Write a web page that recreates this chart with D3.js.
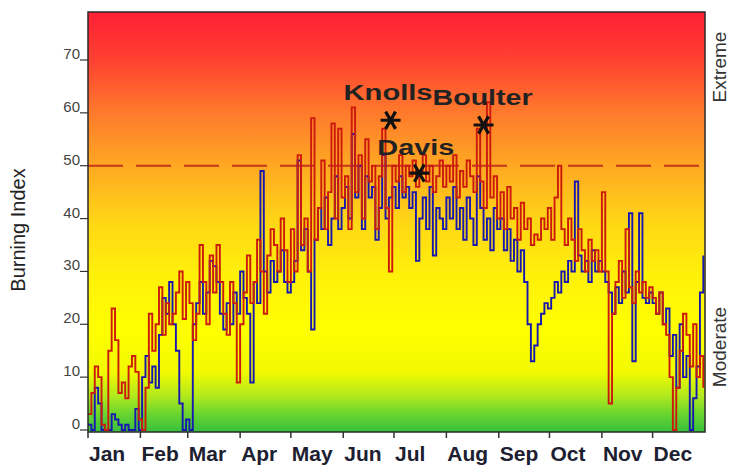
<!DOCTYPE html>
<html>
<head>
<meta charset="utf-8">
<script src="https://cdn.jsdelivr.net/npm/d3@7"></script>
<style>
  body { margin: 0; background: #fff; }
  svg { display: block; font-family: "Liberation Sans", Arial, sans-serif; }
</style>
</head>
<body>
<svg width="731" height="466"></svg>
<script>
// month labels and the day each month starts on
const months = ["Jan", "Feb", "Mar", "Apr", "May", "Jun", "Jul", "Aug", "Sep", "Oct", "Nov", "Dec"];
const monthStart = [0, 31, 59, 90, 120, 151, 181, 212, 243, 273, 304, 334];
const yTicks = [0, 10, 20, 30, 40, 50, 60, 70];
const threshold = 50;

// burning index, one value every 2 days (day = 2 * index)
const redSeries = [
  3, 7, 12, 10, 1, 0, 15, 23, 17, 7, 9, 6, 12, 14, 11, 2,
  0, 8, 22, 15, 20, 27, 18, 24, 20, 22, 26, 30, 21, 28,
  24, 17, 22, 35, 28, 20, 33, 26, 35, 28, 22, 18, 28, 24, 9,
  20, 26, 33, 24, 28, 36, 30, 22, 33, 38, 35, 30, 40, 34, 28,
  38, 30, 52, 35, 40, 30, 59, 36, 42, 51, 38, 45, 58, 40, 57, 44,
  48, 38, 61, 45, 52, 40, 55, 47, 50, 38, 48, 57, 42, 30, 50,
  47, 52, 45, 50, 48, 51, 46, 49, 52, 47, 50, 45, 48, 51, 46,
  50, 47, 52, 44, 49, 46, 51, 48, 45, 57, 47, 42, 62, 44, 48, 40,
  45, 38, 46, 40, 42, 36, 43, 38, 40, 35, 37, 36, 40, 38, 42,
  36, 44, 50, 38, 35, 40, 36, 32, 38, 34, 30, 36, 32, 34, 30,
  45, 30, 5, 22, 28, 32, 25, 38, 27, 24, 30, 26, 28, 25, 27,
  25, 22, 26, 20, 18, 10, 0, 8, 15, 22, 18, 12, 20, 10, 14, 8
];
const blueSeries = [
  1, 0, 8, 5, 0, 0, 0, 3, 2, 1, 0, 1, 0, 0, 4, 0,
  10, 14, 9, 12, 8, 18, 25, 22, 28, 20, 15, 5, 0, 2,
  0, 20, 24, 28, 22, 26, 32, 31, 28, 22, 19, 24, 20, 26, 22,
  30, 25, 22, 9, 28, 24, 49, 30, 26, 32, 28, 30, 34, 28, 26,
  28, 32, 51, 34, 38, 30, 19, 36, 42, 38, 44, 35, 40, 48, 38, 42,
  46, 40, 56, 44, 50, 38, 48, 44, 46, 36, 42, 52, 40, 44, 46,
  42, 48, 44, 46, 42, 45, 32, 40, 44, 38, 46, 33, 42, 40, 38,
  44, 40, 46, 38, 42, 36, 44, 40, 35, 48, 42, 36, 40, 34, 42, 38,
  40, 34, 38, 32, 36, 30, 34, 28, 20, 13, 16, 20, 22, 24, 23,
  25, 28, 26, 30, 28, 32, 30, 47, 33, 30, 32, 28, 34, 30, 32,
  30, 28, 26, 22, 27, 24, 30, 26, 41, 13, 28, 41, 25, 24, 26,
  24, 22, 26, 20, 23, 14, 18, 8, 20, 10, 14, 0, 6, 12, 26, 33
];

// fire markers
const fireNames = ["Knolls", "Davis", "Boulter"];
const fireDays = [179, 196, 234];
const fireValues = [58.6, 48.6, 57.7];

// label placement relative to marker (layout only)
const labelOffset = { Knolls: [-47, -20, 89], Davis: [-42, -18, 77], Boulter: [-51, -20, 100] };

const svg = d3.select("svg");
const pLeft = 88, pRight = 705, pTop = 12, pBottom = 432;

const x = d3.scaleLinear().domain([0, 365]).range([pLeft, pRight]);
const y = d3.scaleLinear().domain([0, 70]).range([430, 60]);

// background gradient
const defs = svg.append("defs");
const grad = defs.append("linearGradient")
    .attr("id", "bg")
    .attr("gradientUnits", "userSpaceOnUse")
    .attr("x1", 0).attr("x2", 0).attr("y1", pTop).attr("y2", pBottom);
[
  [12, "#ff1f35"], [60, "#ff4131"], [113, "#ff7a2c"], [166, "#ffa822"],
  [220, "#ffd516"], [273, "#fff00a"], [330, "#ffff00"], [372, "#f2f900"],
  [395, "#b4ea1c"], [415, "#66d430"], [432, "#38c03c"]
].forEach(s => grad.append("stop")
    .attr("offset", (s[0] - pTop) / (pBottom - pTop))
    .attr("stop-color", s[1]));

defs.append("clipPath").attr("id", "clip")
  .append("rect").attr("x", pLeft).attr("y", pTop)
    .attr("width", pRight - pLeft).attr("height", pBottom - pTop);

svg.append("rect")
    .attr("x", pLeft).attr("y", pTop)
    .attr("width", pRight - pLeft).attr("height", pBottom - pTop)
    .attr("fill", "url(#bg)");

// dashed threshold
svg.append("line")
    .attr("x1", pLeft).attr("x2", pRight)
    .attr("y1", y(threshold)).attr("y2", y(threshold))
    .attr("stroke", "#c8361c")
    .attr("stroke-width", 2)
    .attr("stroke-dasharray", "35,13");

// series
const line = d3.line()
    .x((d, i) => x(i * 2))
    .y(d => y(d))
    .curve(d3.curveStepAfter);

const plot = svg.append("g").attr("clip-path", "url(#clip)");

plot.append("path")
    .datum(blueSeries)
    .attr("fill", "none")
    .attr("stroke", "#1818b0")
    .attr("stroke-width", 1.9)
    .attr("d", line);

plot.append("path")
    .datum(redSeries)
    .attr("fill", "none")
    .attr("stroke", "#cc1a0e")
    .attr("stroke-width", 1.9)
    .attr("d", line);

// frame
svg.append("rect")
    .attr("x", pLeft).attr("y", pTop)
    .attr("width", pRight - pLeft).attr("height", pBottom - pTop)
    .attr("fill", "none")
    .attr("stroke", "#2a2a2a")
    .attr("stroke-width", 1.5);

// y ticks
const yt = svg.append("g");
yt.selectAll("line").data(yTicks).enter().append("line")
    .attr("x1", pLeft - 8).attr("x2", pLeft)
    .attr("y1", d => y(d)).attr("y2", d => y(d))
    .attr("stroke", "#333").attr("stroke-width", 1.2);
yt.selectAll("text").data(yTicks).enter().append("text")
    .attr("x", pLeft - 8)
    .attr("y", d => y(d) - 1)
    .attr("text-anchor", "end")
    .attr("font-size", 15)
    .attr("fill", "#444")
    .text(d => d);

// x ticks and month labels
const xt = svg.append("g");
xt.selectAll("line").data(monthStart).enter().append("line")
    .attr("x1", d => x(d)).attr("x2", d => x(d))
    .attr("y1", pBottom).attr("y2", pBottom + 6)
    .attr("stroke", "#333").attr("stroke-width", 1.5);
xt.selectAll("text").data(months).enter().append("text")
    .attr("x", (d, i) => x(monthStart[i]) + 1)
    .attr("y", 461)
    .attr("font-size", 21)
    .attr("font-weight", "bold")
    .attr("fill", "#1c2030")
    .text(d => d);

// axis titles
svg.append("text")
    .attr("transform", "translate(25,230) rotate(-90)")
    .attr("text-anchor", "middle")
    .attr("font-size", 20)
    .attr("fill", "#222")
    .text("Burning Index");

svg.append("text")
    .attr("transform", "translate(726,67) rotate(-90)")
    .attr("text-anchor", "middle")
    .attr("font-size", 19)
    .attr("fill", "#333")
    .text("Extreme");

svg.append("text")
    .attr("transform", "translate(726,347) rotate(-90)")
    .attr("text-anchor", "middle")
    .attr("font-size", 19)
    .attr("fill", "#333")
    .text("Moderate");

// fire markers
const star = (r) => {
  const p = d3.path();
  for (let k = 0; k < 3; k++) {
    const a = k * Math.PI / 3;
    p.moveTo(-r * Math.cos(a), -r * Math.sin(a));
    p.lineTo(r * Math.cos(a), r * Math.sin(a));
  }
  return p.toString();
};

const fires = svg.append("g");
fireNames.forEach((name, i) => {
  const cx = x(fireDays[i]), cy = y(fireValues[i]);
  fires.append("path")
      .attr("transform", `translate(${cx},${cy})`)
      .attr("d", star(10))
      .attr("stroke", "#111")
      .attr("stroke-width", 3.2)
      .attr("stroke-linecap", "butt");
  const off = labelOffset[name];
  fires.append("text")
      .attr("x", cx + off[0])
      .attr("y", cy + off[1])
      .attr("font-size", 22)
      .attr("font-weight", "bold")
      .attr("fill", "#222")
      .attr("textLength", off[2])
      .attr("lengthAdjust", "spacingAndGlyphs")
      .text(name);
});
</script>
</body>
</html>
